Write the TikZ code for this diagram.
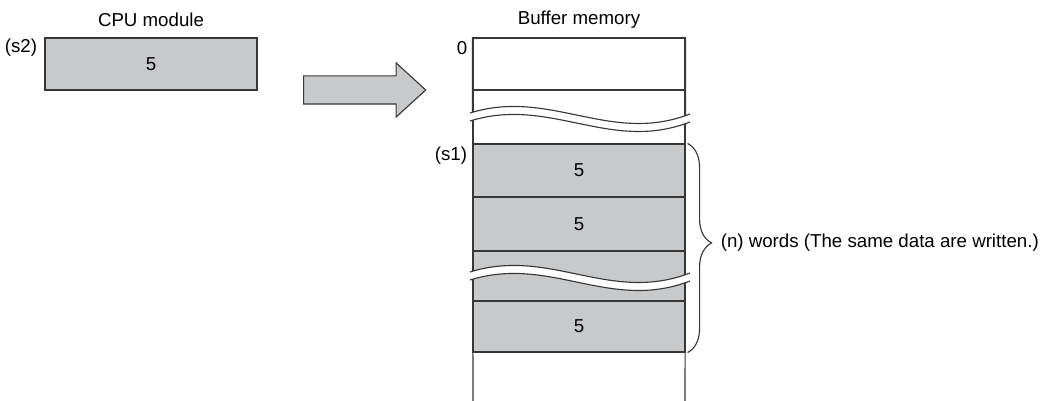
\documentclass[tikz,border=0pt]{standalone}
\usepackage{fontspec}
\setmainfont{Liberation Sans}
\usepackage{xcolor}
\usetikzlibrary{shapes,arrows,positioning,calc,decorations.pathreplacing}
\definecolor{cellgray}{RGB}{200,201,203}
\definecolor{linegray}{RGB}{55,55,55}

\begin{document}
\begin{tikzpicture}[every node/.style={font=\fontsize{13.3}{15}\selectfont}, line width=0.8pt,
    cell/.style={draw=linegray, minimum width=5.3cm, inner sep=0pt},
    datacell/.style={cell, fill=cellgray}]
        \useasboundingbox (0,0) rectangle (26.075,10.025);
        % CPU module side
        \node[datacell, minimum height=1.3cm] (cpu) at (3.775,8.425) {5};
        \node (cpulbl) at (3.775,9.525) {CPU module};
        \node (s2) at (0.525,8.825) {(s2)};
        \node[single arrow, draw=linegray, fill=cellgray, inner xsep=0pt, inner ysep=0.3375cm, minimum height=3.05cm,
            single arrow head extend=0.325cm, single arrow tip angle=85] (arr) at (8.925,7.775) {};
        % buffer memory side
        \node (buflbl) at (14.475,9.525) {Buffer memory};
        \node (zero) at (11.55,8.825) {0};
        \node[cell, minimum height=1.3cm] (m0) at (14.475,8.425) {};
        \node[cell, minimum height=1.35cm] (m1) at (14.475,7.1) {};
        \node[datacell, minimum height=1.325cm] (d1) at (14.475,5.7625) {5};
        \node[datacell, minimum height=1.35cm] (d2) at (14.475,4.425) {5};
        \node[datacell, minimum height=1.25cm] (d3) at (14.475,3.125) {};
        \node[datacell, minimum height=1.275cm] (d4) at (14.475,1.8625) {5};
        \node (s1) at (11.275,6.125) {(s1)};
        \coordinate (bl) at (11.825,0);
        \coordinate (br) at (17.125,0);
        \draw[linegray] (m0.north west) -- (bl);
        \draw[linegray] (m0.north east) -- (br);
        % wave breaks
        \foreach \dy in {0,-3.975} {
            \fill[white] (11.75,7.2+\dy) .. controls (13.75,7.825+\dy) and (15.25,6.4+\dy) .. (17.25,7.175+\dy)
                -- (17.25,6.975+\dy) .. controls (15.25,6.2+\dy) and (13.75,7.625+\dy) .. (11.75,7.0+\dy) -- cycle;
            \draw[linegray] (11.75,7.2+\dy) .. controls (13.75,7.825+\dy) and (15.25,6.4+\dy) .. (17.25,7.175+\dy);
            \draw[linegray] (11.75,7.0+\dy) .. controls (13.75,7.625+\dy) and (15.25,6.2+\dy) .. (17.25,6.975+\dy);
        }
        \draw[linegray, decorate, decoration={brace, amplitude=0.6cm, aspect=0.476}] ($(d1.north east)+(0.05,0)$) -- ($(d4.south east)+(0.05,0)$)
            coordinate[pos=0.476] (brmid);
        \node[anchor=west] (nwords) at ($(brmid)+(0.7,0)$) {(n) words (The same data are written.)};
    \end{tikzpicture}
\end{document}
